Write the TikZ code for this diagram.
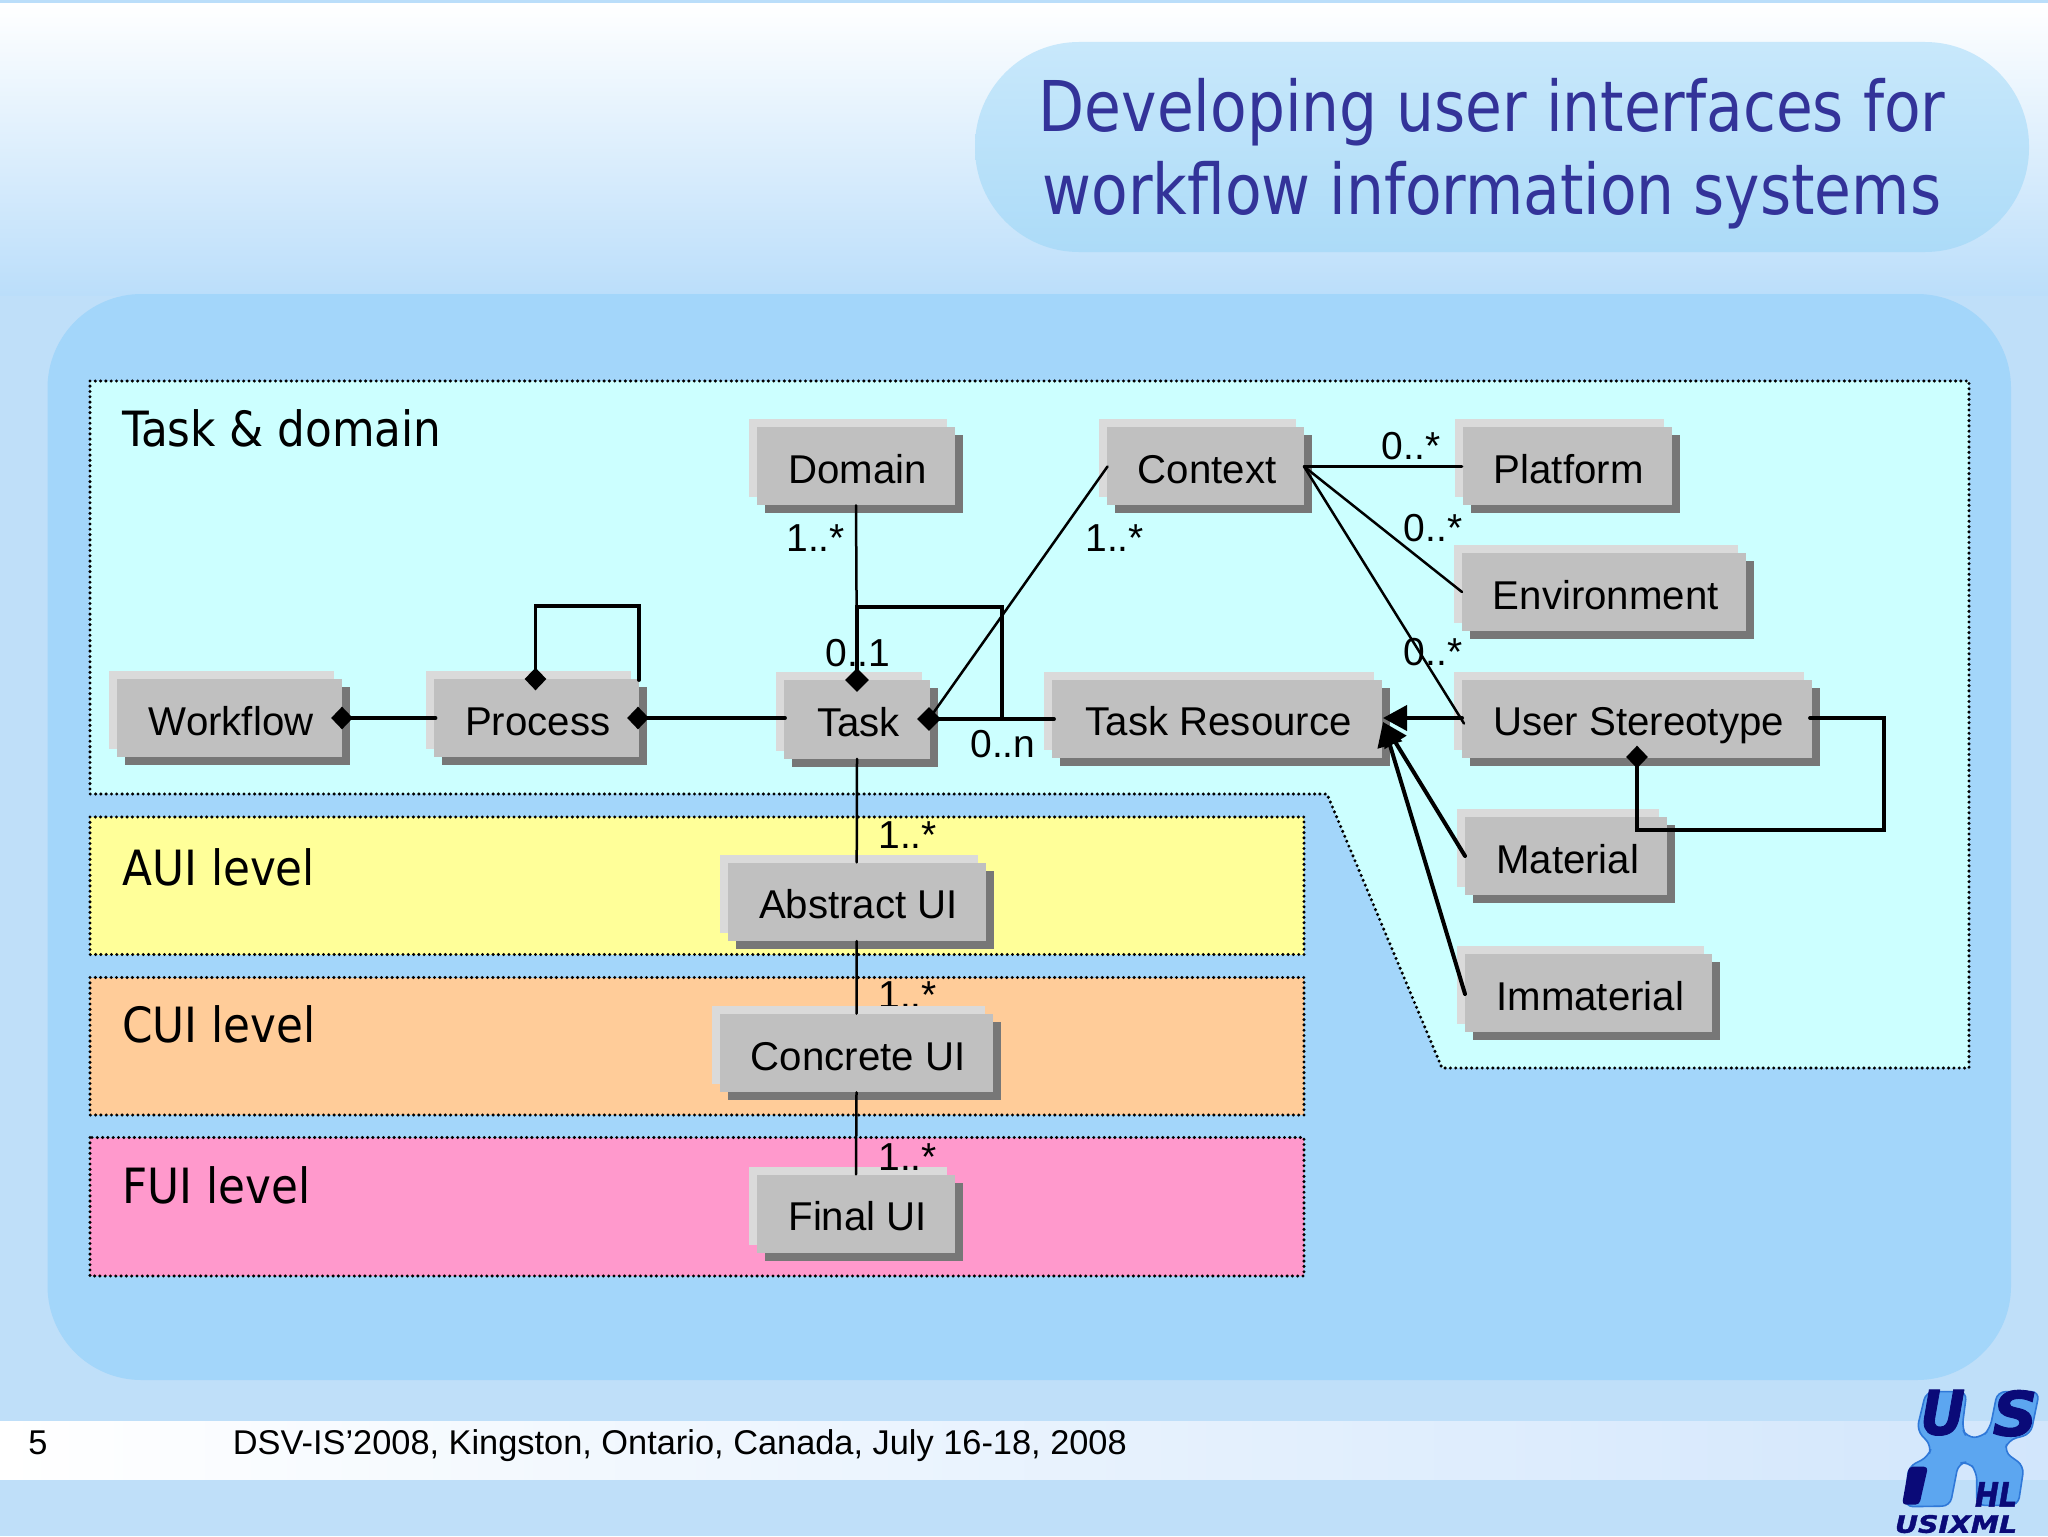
\documentclass[tikz,border=0pt]{standalone}
\usepackage{fontspec}
\setmainfont{Liberation Sans}
\newfontfamily\titlefont{DejaVu Sans Condensed}
\newfontfamily\logofont[BoldItalicFeatures={FakeBold=1.5}]{DejaVu Sans}
\usetikzlibrary{shapes.geometric,shadows,arrows.meta}
\definecolor{bgtop}{HTML}{FFFFFF}
\definecolor{bgbot}{HTML}{BBDEFA}
\definecolor{bglow}{HTML}{BFDFF9}
\definecolor{panel}{HTML}{A3D6FA}
\definecolor{pilltop}{HTML}{C8E8FB}
\definecolor{pillbot}{HTML}{ACDBF8}
\definecolor{cyanband}{HTML}{CCFFFF}
\definecolor{yellowband}{HTML}{FFFF99}
\definecolor{orangeband}{HTML}{FFCC99}
\definecolor{pinkband}{HTML}{FF99CC}
\definecolor{titleblue}{HTML}{333399}
\definecolor{footr}{HTML}{D2E6FC}
\definecolor{logofill}{HTML}{5CA6F0}
\definecolor{logoedge}{HTML}{2F78D8}
\definecolor{logoink}{HTML}{0A0A78}
\tikzset{
  x=0.5pt,y=-0.5pt,
  band/.style={draw=black,line width=1.7pt,dash pattern=on 0pt off 2.65pt,line cap=round,line join=round},
  umlbox/.style={fill=boxgray,inner sep=0pt,font=\fontsize{20.1}{23}\selectfont,text height=17pt,text depth=0pt,
    execute at begin node=\hspace*{1.7pt},
    general shadow={fill=boxlight,shadow xshift=-4pt,shadow yshift=4pt},
    general shadow={fill=boxdark,shadow xshift=4pt,shadow yshift=-4pt}},
  mult/.style={inner sep=0pt,anchor=base west,font=\fontsize{19.5}{23}\selectfont},
  level/.style={inner sep=0pt,anchor=base west,font=\titlefont\fontsize{24.3}{27}\selectfont},
  titletext/.style={inner sep=0pt,anchor=base,text=titleblue,font=\titlefont\fontsize{35}{40}\selectfont},
  thinlink/.style={line width=1.25pt,line cap=round},
  thicklink/.style={line width=1.9pt,line join=miter,line cap=round},
  gen/.style={line width=2pt,line cap=round,-{Triangle[length=12pt,width=12.5pt]}},
  agg/.style={diamond,fill=black,inner sep=0pt,minimum width=12pt,minimum height=12pt},
  aggsmall/.style={diamond,fill=black,inner sep=0pt,minimum width=11pt,minimum height=11.5pt},
  foottext/.style={inner sep=0pt,anchor=base west,font=\fontsize{17.18}{20}\selectfont},
  logotext/.style={inner sep=0pt,text=logoink},
}
\definecolor{boxgray}{HTML}{C0C0C0}
\definecolor{boxlight}{HTML}{DADADA}
\definecolor{boxdark}{HTML}{777777}
\begin{document}
\begin{tikzpicture}
\useasboundingbox (0,0) rectangle (2048,1536);
% background
\fill[bglow] (0,0) rectangle (2048,1536);
\shade[top color=bgtop,bottom color=bgbot] (0,3) rectangle (2048,295);
\fill[bgbot] (0,0) rectangle (2048,3);
\shade[left color=white,right color=footr] (0,1421.5) rectangle (2048,1479);
\fill[panel] (47.5,294) [rounded corners=47pt] rectangle (2011,1380);
\path[top color=pilltop,bottom color=pillbot,rounded corners=52pt] (975,42) rectangle (2029,252);
% title
\node[titletext] (title1) at (1492,132) {\scalebox{.95}[1]{Developing user interfaces for}};
\node[titletext] (title2) at (1492,214) {\scalebox{.95}[1]{workflow information systems}};
% frames
\path[fill=yellowband,band] (90,817) rectangle (1304,954.5);
\path[fill=orangeband,band] (90,977.5) rectangle (1304,1115);
\path[fill=pinkband,band] (90,1137.5) rectangle (1304,1276);
\path[fill=cyanband,band] (90,381) -- (1969,381) -- (1969,1068) -- (1442,1068) -- (1327,794) -- (90,794) -- cycle;
\node[level] (ltask) at (122,446) {Task \& domain};
\node[level] (laui) at (122,885) {AUI level};
\node[level] (lcui) at (122,1042) {CUI level};
\node[level] (lfui) at (122,1203) {FUI level};
% boxes
\node[umlbox,minimum width=99pt,minimum height=39pt] (domain) at (856,466) {Domain};
\node[umlbox,minimum width=98.5pt,minimum height=39pt] (context) at (1205.5,466) {Context};
\node[umlbox,minimum width=104.5pt,minimum height=39pt] (platform) at (1567,466) {Platform};
\node[umlbox,minimum width=142pt,minimum height=39pt] (environment) at (1604,592) {Environment};
\node[umlbox,minimum width=112.5pt,minimum height=39pt] (workflow) at (229.5,718) {Workflow};
\node[umlbox,minimum width=102.5pt,minimum height=39pt] (process) at (536,718) {Process};
\node[umlbox,minimum width=73pt,minimum height=39.5pt] (task) at (857,719) {Task};
\node[umlbox,minimum width=165pt,minimum height=39pt] (taskres) at (1217,718.5) {Task Resource};
\node[umlbox,minimum width=175pt,minimum height=39pt] (stereo) at (1637,718.5) {User Stereotype};
\node[umlbox,minimum width=101pt,minimum height=39pt] (material) at (1566,856) {Material};
\node[umlbox,minimum width=123.5pt,minimum height=39pt] (immaterial) at (1588.5,993) {Immaterial};
\node[mult] (m5) at (878,1008) {1..*};
\node[umlbox,minimum width=129pt,minimum height=39pt] (abstract) at (856.7,901.7) {Abstract UI};
\node[umlbox,minimum width=136.5pt,minimum height=39pt] (concrete) at (856.5,1053) {Concrete UI};
\node[umlbox,minimum width=99pt,minimum height=39pt] (final) at (856,1213.7) {Final UI};
% diamonds and free ends
\node[agg] (dtasktop) at (857,680) {};
\node[agg] (dtaskright) at (929,719) {};
\node[aggsmall] (dprocright) at (638,718) {};
\node[aggsmall] (dwork) at (342,718) {};
\node[aggsmall] (dproctop) at (535.5,679) {};
\node[aggsmall] (dstereo) at (1637,757) {};
\coordinate (taskloopA) at (857,607);
\coordinate (taskloopB) at (1002,607);
\coordinate (taskloopC) at (1002,719);
\coordinate (procloopA) at (535.5,606);
\coordinate (procloopB) at (639,606);
\coordinate (procloopC) at (639,680);
\coordinate (stloopA) at (1884,718);
\coordinate (stloopB) at (1884,830);
\coordinate (stloopC) at (1637,830);
\coordinate (stloopS) at (1810,718);
\coordinate (genTip) at (1383,718);
\coordinate (genTipB) at (1383,722);
\coordinate (ctxout) at (1304,466.5);
\coordinate (ctxin) at (1107.5,466.5);
\coordinate (platin) at (1462,466.5);
\coordinate (envin) at (1462,592);
\coordinate (stin) at (1464,723.5);
\coordinate (stout) at (1462,718);
\coordinate (matout) at (1465,856);
\coordinate (immout) at (1465,994);
\coordinate (taskresin) at (1054,719);
\coordinate (taskin) at (785,718);
\coordinate (procin) at (435.5,718);
% connectors
\draw[thinlink] (domain.south) -- (dtasktop.center);
\draw[thinlink] (ctxin) -- (dtaskright.center);
\draw[thinlink] (ctxout) -- (platin);
\draw[thinlink] (ctxout) -- (envin);
\draw[thinlink] (ctxout) -- (stin);
\draw[thicklink] (dtasktop.center) -- (taskloopA) -- (taskloopB) -- (taskloopC);
\draw[thicklink] (dtaskright.center) -- (taskresin);
\draw[thicklink] (dprocright.center) -- (taskin);
\draw[thicklink] (dwork.center) -- (procin);
\draw[thicklink] (dproctop.center) -- (procloopA) -- (procloopB) -- (procloopC);
\draw[thicklink] (stloopS) -- (stloopA) -- (stloopB) -- (stloopC) -- (dstereo.center);
\draw[thinlink] (task.south) -- (abstract.north);
\draw[thinlink] (abstract.south) -- (concrete.north);
\draw[thinlink] (concrete.south) -- (final.north);
\draw[gen] (stout) -- (genTip);
\draw[gen] (matout) -- (genTipB);
\draw[gen] (immout) -- (genTipB);
% multiplicities
\node[mult] (m1) at (786,551) {1..*};
\node[mult] (m2) at (1085,551) {1..*};
\node[mult] (m3) at (825,666) {0..1};
\node[mult] (m4) at (970,757) {0..n};
\node[mult] (m6) at (1381.5,459) {0..*};
\node[mult] (m7) at (1403.5,541) {0..*};
\node[mult] (m8) at (1403.5,665) {0..*};
\node[mult] (m9) at (878,848) {1..*};
\node[mult] (m10) at (878,1170) {1..*};
% footer
\node[foottext] (pagenum) at (28,1454) {5};
\node[foottext] (foot) at (232.5,1454) {DSV-IS’2008, Kingston, Ontario, Canada, July 16-18, 2008};
% logo
\begin{scope}[shift={(1800,1360)},x=0.1667pt,y=-0.1667pt]
\path[fill=logofill,draw=logoedge,line width=0.8pt,rounded corners=4pt]
 (378,95) -- (500,95) -- (486,205) -- (500,232) -- (545,232) -- (570,205) -- (592,95) -- (718,95) -- (692,222) -- (625,240) -- (612,275) -- (672,318) -- (654,436) -- (530,436) -- (530,335) -- (505,305) -- (475,310) -- (450,438) -- (315,440) -- (325,320) -- (385,290) -- (395,258) -- (350,210) -- cycle;
\fill[logoink,rounded corners=2pt] (326,320) -- (384,320) -- (358,434) -- (306,434) -- cycle;
\node[logotext,font=\logofont\fontsize{24}{24}\selectfont\bfseries\itshape] (logoU) at (428,158) {\scalebox{1.15}[1.28]{U}};
\node[logotext,font=\logofont\fontsize{24}{24}\selectfont\bfseries\itshape] (logoS) at (645,160) {\scalebox{1.3}[1.28]{S}};
\node[logotext,font=\logofont\fontsize{13}{14}\selectfont\bfseries\itshape] (logoHL) at (588,403) {\scalebox{1.1}[1.3]{HL}};
\node[logotext,font=\logofont\fontsize{12}{14}\selectfont\bfseries\itshape] (logoT) at (468,492) {\scalebox{1.18}[1]{USIXML}};
\end{scope}
\end{tikzpicture}
\end{document}
